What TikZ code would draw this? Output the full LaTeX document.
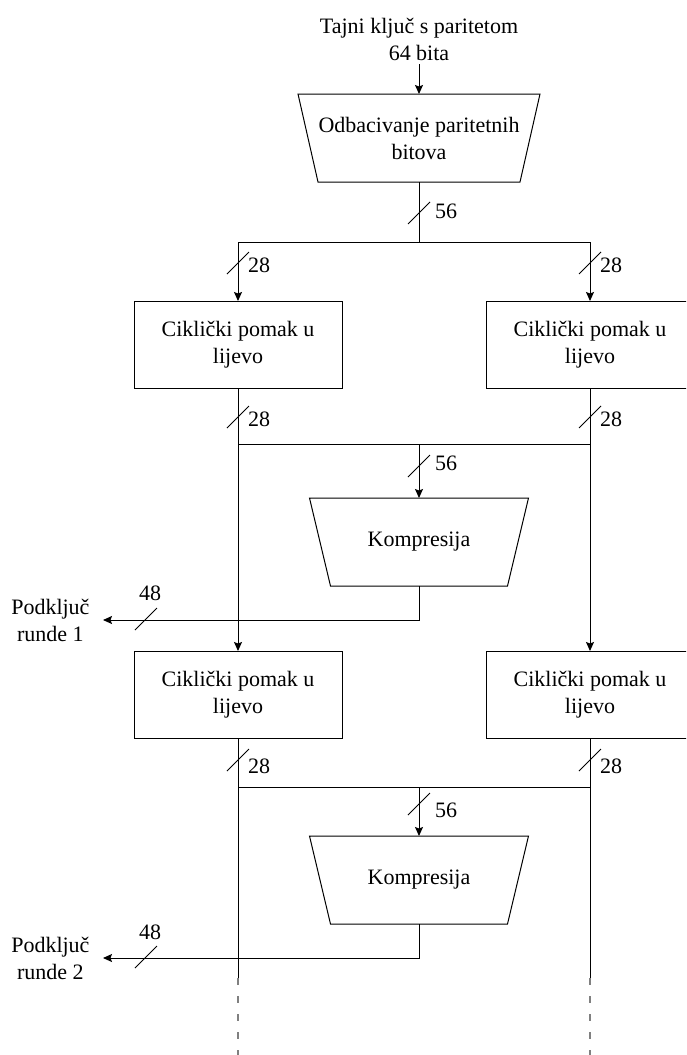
\documentclass[tikz,border=0pt]{standalone}
\usepackage{fontspec}
\setmainfont{Liberation Serif}
\usetikzlibrary{arrows.meta}

\begin{document}
\begin{tikzpicture}[x=1pt,y=-1pt,
        font=\fontsize{22}{27}\selectfont, line width=1pt,
        >={Stealth[length=9pt,width=8pt,inset=1.5pt]},
        box/.style = {draw, minimum width=208, minimum height=87, align=center},
        trap/.style = {minimum height=87, inner sep=0, align=center},
        lbl/.style = {align=center},
        bus/.style = {line width=0.8pt},
        cont/.style = {gray, line width=1.3pt, dash pattern=on 7pt off 11pt}]
        \useasboundingbox (0,0) rectangle (686,1055);
        \clip (0,0) rectangle (686,1055);
        \node[lbl] (key) at (419,39) {Tajni ključ s paritetom\\64 bita};
        \node[trap, minimum width=241] (drop) at (419,138) {Odbacivanje paritetnih\\bitova};
        \coordinate (s1) at (419,242);
        \node[box] (r1) at (238,345) {Ciklički pomak u\\lijevo};
        \node[box] (r2) at (590,345) {Ciklički pomak u\\lijevo};
        \coordinate (m1) at (419,444);
        \node[trap, minimum width=218] (c1) at (419,542) {Kompresija};
        \node[lbl, anchor=east, inner xsep=13] (k1) at (103,620) {Podključ\\runde 1};
        \node[box] (r3) at (238,695) {Ciklički pomak u\\lijevo};
        \node[box] (r4) at (590,695) {Ciklički pomak u\\lijevo};
        \coordinate (m2) at (419,787);
        \node[trap, minimum width=218] (c2) at (419,880) {Kompresija};
        \node[lbl, anchor=east, inner xsep=13] (k2) at (103,958) {Podključ\\runde 2};
        \coordinate (e1) at (238,978);
        \coordinate (e2) at (590,978);
        \coordinate (f1) at (238,1060);
        \coordinate (f2) at (590,1060);
        % trapezoid outlines
        \draw (drop.north west) -- (drop.north east) -- ([xshift=-20]drop.south east)
                -- ([xshift=20]drop.south west) -- cycle;
        \draw (c1.north west) -- (c1.north east) -- ([xshift=-21]c1.south east)
                -- ([xshift=21]c1.south west) -- cycle;
        \draw (c2.north west) -- (c2.north east) -- ([xshift=-21]c2.south east)
                -- ([xshift=21]c2.south west) -- cycle;
        % connectors
        \draw[->] (key) -- (drop);
        \draw (drop) -- (s1);
        \draw[->] (s1) -| (r1);
        \draw[->] (s1) -| (r2);
        \draw (r1) |- (m1);
        \draw (r2) |- (m1);
        \draw[->] (m1) -- (c1);
        \draw[->] (c1) |- (k1);
        \draw[->] (r1) -- (r3);
        \draw[->] (r2) -- (r4);
        \draw (r3) |- (m2);
        \draw (r4) |- (m2);
        \draw[->] (m2) -- (c2);
        \draw[->] (c2) |- (k2);
        \draw (r3) -- (e1);
        \draw (r4) -- (e2);
        \draw[cont] (e1) -- (f1);
        \draw[cont] (e2) -- (f2);
        % bus widths
        \draw[bus] (419,213) +(-11,11) -- +(11,-11) +(27,-2) node {56};
        \draw[bus] (238,263) +(-11,11) -- +(11,-11) +(21,2) node {28};
        \draw[bus] (590,263) +(-11,11) -- +(11,-11) +(21,2) node {28};
        \draw[bus] (238,417) +(-11,11) -- +(11,-11) +(21,2) node {28};
        \draw[bus] (590,417) +(-11,11) -- +(11,-11) +(21,2) node {28};
        \draw[bus] (419,466) +(-11,11) -- +(11,-11) +(27,-3) node {56};
        \draw[bus] (146,619) +(-11,11) -- +(11,-11) +(4,-26) node {48};
        \draw[bus] (238,760) +(-11,11) -- +(11,-11) +(21,6) node {28};
        \draw[bus] (590,760) +(-11,11) -- +(11,-11) +(21,6) node {28};
        \draw[bus] (419,804) +(-11,11) -- +(11,-11) +(27,6) node {56};
        \draw[bus] (146,957) +(-11,11) -- +(11,-11) +(4,-25) node {48};
\end{tikzpicture}
\end{document}
